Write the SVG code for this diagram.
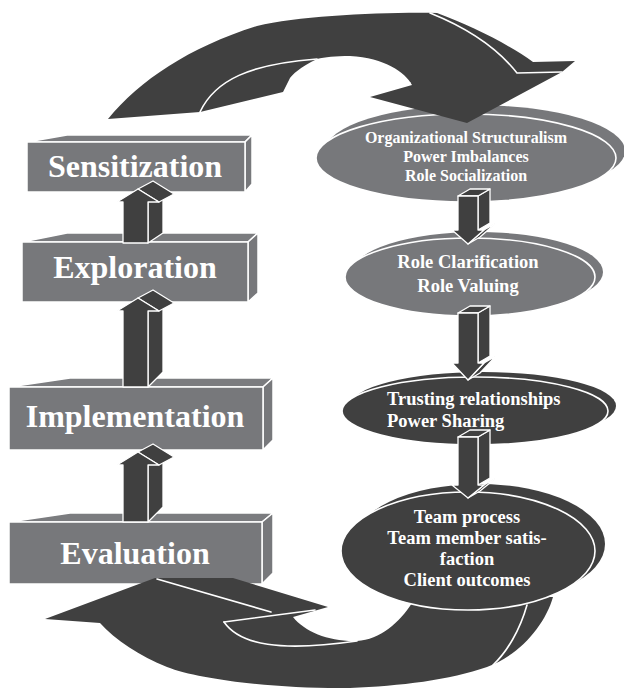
<svg xmlns="http://www.w3.org/2000/svg" width="624" height="689" viewBox="0 0 624 689">
<style>
.box{fill:#77787b;stroke:#fff;stroke-width:1.5;stroke-linejoin:round}
.boxtop{fill:#7b7c7f;stroke:#fff;stroke-width:1.5;stroke-linejoin:round}
.dk{fill:#404040;stroke:#fff;stroke-width:1.3;stroke-linejoin:round}
.dkn{fill:#404040;stroke:none}
.wl{fill:none;stroke:#fff;stroke-width:1.6;stroke-linecap:round}
.eg{fill:#77787b}
.ed{fill:#404040}
.ef{stroke:#fff;stroke-width:1.6}
.t{font-family:"Liberation Serif","Times New Roman",serif;font-weight:bold;fill:#fff;text-anchor:middle}
.big{font-size:32px}
.sm{font-size:18.5px}
</style>
<rect width="624" height="689" fill="#fff"/>

<g id="sensitization">
<polygon class="boxtop" points="27,142 67,135 252,135 245,142"/>
<polygon class="box" points="245,142 252,135 252,184 245,192"/>
<rect class="box" x="27" y="142" width="218" height="50"/>
<text class="t big" x="135" y="177">Sensitization</text>
</g>
<g id="exploration">
<polygon class="boxtop" points="22,242 67,233 258,233 248,242"/>
<polygon class="box" points="248,242 258,233 258,293 248,302"/>
<rect class="box" x="22" y="242" width="226" height="60"/>
<text class="t big" x="135" y="278">Exploration</text>
</g>
<g id="implementation">
<polygon class="boxtop" points="9,387 70,378 273,378 263,387"/>
<polygon class="box" points="263,387 273,378 273,440 263,450"/>
<rect class="box" x="9" y="387" width="254" height="63"/>
<text class="t big" x="135" y="427">Implementation</text>
</g>
<g id="evaluation">
<polygon class="boxtop" points="9,522 70,513 273,513 262,522"/>
<polygon class="box" points="262,522 273,513 273,573 262,584"/>
<rect class="box" x="9" y="522" width="253" height="62"/>
<text class="t big" x="135" y="564">Evaluation</text>
</g>

<g id="connectors">
<!-- up arrows -->
<g id="up-arrow-1">
<polygon class="dk" points="148,243 148,202 163,194 163,233"/>
<polygon class="dk" points="138,189 159,202 174,194 153,181"/>
<polygon class="dk" points="123,243 123,202 117,202 138,189 159,202 148,202 148,243"/>
</g>
<g id="up-arrow-2">
<polygon class="dk" points="148,387 148,311 163,303 163,372"/>
<polygon class="dk" points="138,298 159,311 174,303 153,290"/>
<polygon class="dk" points="123,387 123,311 117,311 138,298 159,311 148,311 148,387"/>
</g>
<g id="up-arrow-3">
<polygon class="dk" points="148,522 148,465 163,457 163,507"/>
<polygon class="dk" points="138,452 159,465 174,457 153,444"/>
<polygon class="dk" points="123,522 123,465 117,465 138,452 159,465 148,465 148,522"/>
</g>
<!-- bottom curved arrow -->
<g id="bottom-arrow">
<path class="dkn" d="M45,619 L155,578 L233,578 L328,607 L293,617 C305,632 330,642 357,641 C380,640 400,622 412,603 L470,598 L553,597 C545,625 520,655 487,667 C450,680 400,686 350,688 C280,689 200,680 167,667 C140,656 115,640 100,623 Z"/>
<path class="wl" d="M157,579 L271,612"/>
<path class="wl" d="M224,622 L315,610"/>
<path class="wl" d="M224,622 C240,645 280,652 357,641"/>
<path class="wl" d="M527,605 C520,630 507,652 493,665"/>
</g>
</g>

<g id="node-org">
<ellipse class="eg" cx="475" cy="151" rx="150" ry="46"/>
<ellipse class="eg ef" cx="466" cy="158" rx="150" ry="44"/>
<text class="t" font-size="16" x="466" y="143">Organizational Structuralism</text>
<text class="t" font-size="16" x="466" y="162">Power Imbalances</text>
<text class="t" font-size="16" x="466" y="181">Role Socialization</text>
</g>
<g id="node-role">
<ellipse class="eg" cx="478" cy="272" rx="125" ry="40"/>
<ellipse class="eg ef" cx="470" cy="277" rx="125" ry="39"/>
<text class="t sm" x="468" y="268">Role Clarification</text>
<text class="t sm" x="468" y="292">Role Valuing</text>
</g>
<g id="node-trust">
<ellipse class="ed" cx="483" cy="406" rx="133" ry="34"/>
<ellipse class="ed ef" cx="475" cy="411" rx="133" ry="34"/>
<text class="t sm" x="387" y="405" text-anchor="start" style="text-anchor:start">Trusting relationships</text>
<text class="t sm" x="387" y="427" style="text-anchor:start">Power Sharing</text>
</g>
<g id="node-team">
<ellipse class="ed" cx="479" cy="544" rx="126" ry="60"/>
<ellipse class="ed ef" cx="468" cy="551" rx="127" ry="59"/>
<text class="t sm" x="467" y="523">Team process</text>
<text class="t sm" x="467" y="544">Team member satis-</text>
<text class="t sm" x="467" y="565">faction</text>
<text class="t sm" x="467" y="586">Client outcomes</text>
</g>

<g id="connectors-2">
<g id="top-arrow">
<path class="dkn" d="M108,119 C140,80 190,47 257,26 C300,16 380,12 437,13 C470,25 510,45 533,62 L575,61 L562,72 L467,123 L370,97 L412,85 C405,72 385,58 350,56 C335,56 325,57 317,59 C300,67 292,75 290,78 L283,92 L200,112 Z"/>
<path class="wl" d="M200,112 C215,80 250,64 317,59"/>
<path class="wl" d="M430,13 C460,25 495,45 517,73 L562,72"/>
<path class="wl" d="M372,94 L410,83"/>
</g>
<g id="down-arrow-1">
<polygon class="dk" points="478,196 490,189 490,223 478,230"/>
<polygon class="dk" points="484,230 496,223 480,237 468,244"/>
<polygon class="dk" points="458,196 470,189 490,189 478,196"/>
<polygon class="dk" points="458,196 478,196 478,230 484,230 468,244 452,230 458,230"/>
</g>
<g id="down-arrow-2">
<polygon class="dk" points="478,313 490,306 490,356 478,363"/>
<polygon class="dk" points="484,363 496,356 480,373 468,380"/>
<polygon class="dk" points="458,313 470,306 490,306 478,313"/>
<polygon class="dk" points="458,313 478,313 478,363 484,363 468,380 452,363 458,363"/>
</g>
<g id="down-arrow-3">
<polygon class="dk" points="478,437 490,430 490,478 478,485"/>
<polygon class="dk" points="484,485 496,478 480,491 468,498"/>
<polygon class="dk" points="458,437 470,430 490,430 478,437"/>
<polygon class="dk" points="458,437 478,437 478,485 484,485 468,498 452,485 458,485"/>
</g>
</g>
</svg>
